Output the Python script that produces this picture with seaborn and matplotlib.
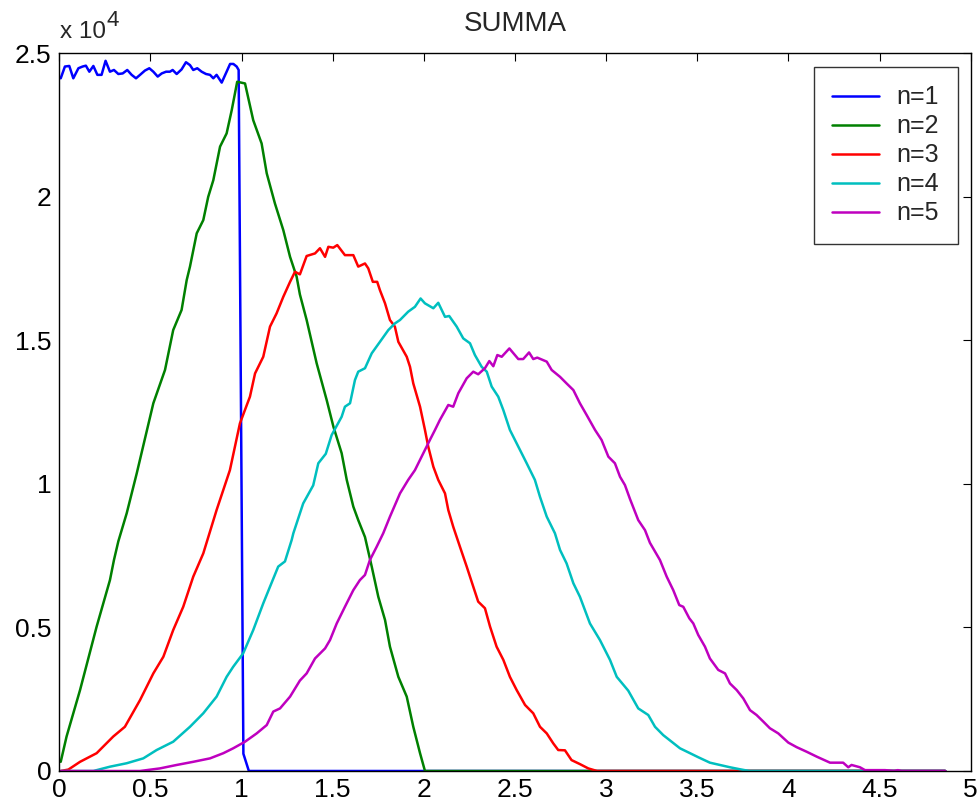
import numpy as np
import pandas as pd
import matplotlib
matplotlib.use("Agg")
import matplotlib.pyplot as plt
import seaborn as sns
from matplotlib.lines import Line2D

# ---- data (counts in units of 1e4) ----
labels = ["n=1", "n=2", "n=3", "n=4", "n=5"]
colors = ["#0000ff", "#008000", "#ff0000", "#00bfbf", "#bf00bf"]

x_n1 = [0.008, 0.031, 0.055, 0.077, 0.105, 0.128, 0.146, 0.165, 0.187, 0.209,
        0.232, 0.254, 0.278, 0.300, 0.324, 0.348, 0.373, 0.397, 0.421, 0.443,
        0.470, 0.494, 0.516, 0.540, 0.562, 0.586, 0.607, 0.622, 0.644, 0.671,
        0.695, 0.717, 0.735, 0.757, 0.781, 0.805, 0.827, 0.845, 0.863, 0.891,
        0.918, 0.937, 0.955, 0.973, 0.984, 1.010, 1.040, 4.860]
y_n1 = [2.413, 2.454, 2.456, 2.413, 2.448, 2.454, 2.457, 2.436, 2.456, 2.425,
        2.425, 2.474, 2.436, 2.442, 2.428, 2.430, 2.442, 2.425, 2.413, 2.425,
        2.440, 2.448, 2.436, 2.419, 2.430, 2.436, 2.436, 2.442, 2.428, 2.444,
        2.469, 2.459, 2.442, 2.448, 2.436, 2.428, 2.425, 2.413, 2.425, 2.398,
        2.436, 2.463, 2.463, 2.454, 2.442, 0.060, 0.000, 0.000]

x_n2 = [0.008, 0.040, 0.114, 0.205, 0.278, 0.300, 0.324, 0.370, 0.425, 0.516,
        0.580, 0.625, 0.671, 0.699, 0.717, 0.754, 0.790, 0.817, 0.845, 0.882,
        0.918, 0.946, 0.976, 1.019, 1.064, 1.110, 1.138, 1.183, 1.229, 1.266,
        1.302, 1.320, 1.357, 1.412, 1.467, 1.504, 1.549, 1.577, 1.613, 1.640,
        1.677, 1.714, 1.750, 1.787, 1.814, 1.860, 1.906, 1.942, 1.979, 2.006,
        4.860]
y_n2 = [0.032, 0.120, 0.282, 0.503, 0.665, 0.735, 0.800, 0.898, 1.037, 1.281,
        1.397, 1.536, 1.606, 1.710, 1.757, 1.873, 1.919, 2.000, 2.058, 2.175,
        2.221, 2.302, 2.401, 2.395, 2.267, 2.186, 2.082, 1.977, 1.884, 1.791,
        1.722, 1.660, 1.571, 1.420, 1.292, 1.199, 1.107, 1.014, 0.921, 0.874,
        0.815, 0.712, 0.607, 0.526, 0.433, 0.328, 0.259, 0.154, 0.062, 0.000,
        0.000]

x_n3 = [0.008, 0.050, 0.114, 0.205, 0.296, 0.360, 0.443, 0.516, 0.571, 0.625,
        0.680, 0.735, 0.790, 0.863, 0.936, 0.991, 1.046, 1.074, 1.119, 1.156,
        1.192, 1.229, 1.266, 1.293, 1.320, 1.357, 1.403, 1.430, 1.458, 1.476,
        1.503, 1.525, 1.567, 1.613, 1.640, 1.677, 1.695, 1.720, 1.744, 1.759,
        1.787, 1.814, 1.841, 1.860, 1.906, 1.924, 1.942, 1.979, 2.006, 2.024,
        2.052, 2.079, 2.116, 2.134, 2.161, 2.198, 2.235, 2.271, 2.298, 2.335,
        2.363, 2.399, 2.436, 2.472, 2.509, 2.555, 2.600, 2.637, 2.674, 2.710,
        2.737, 2.774, 2.810, 2.856, 2.902, 2.950, 4.860]
y_n3 = [0.000, 0.005, 0.032, 0.062, 0.120, 0.154, 0.247, 0.340, 0.398, 0.491,
        0.572, 0.677, 0.758, 0.909, 1.048, 1.211, 1.304, 1.385, 1.443, 1.548,
        1.594, 1.652, 1.704, 1.739, 1.730, 1.794, 1.803, 1.821, 1.791, 1.826,
        1.823, 1.832, 1.797, 1.797, 1.757, 1.768, 1.751, 1.704, 1.704, 1.675,
        1.629, 1.571, 1.548, 1.495, 1.443, 1.408, 1.350, 1.269, 1.188, 1.130,
        1.060, 1.014, 0.967, 0.909, 0.851, 0.781, 0.712, 0.642, 0.590, 0.567,
        0.503, 0.433, 0.387, 0.328, 0.282, 0.230, 0.201, 0.154, 0.131, 0.096,
        0.073, 0.072, 0.038, 0.024, 0.009, 0.000, 0.000]

x_n4 = [0.008, 0.187, 0.278, 0.370, 0.461, 0.534, 0.625, 0.717, 0.790, 0.863,
        0.918, 0.954, 1.009, 1.064, 1.119, 1.156, 1.201, 1.238, 1.275, 1.284,
        1.338, 1.393, 1.421, 1.462, 1.494, 1.549, 1.567, 1.595, 1.622, 1.640,
        1.677, 1.714, 1.759, 1.805, 1.841, 1.869, 1.914, 1.951, 1.982, 2.006,
        2.052, 2.079, 2.116, 2.139, 2.180, 2.216, 2.253, 2.280, 2.317, 2.345,
        2.372, 2.408, 2.436, 2.472, 2.518, 2.564, 2.609, 2.637, 2.674, 2.719,
        2.747, 2.783, 2.820, 2.856, 2.911, 2.966, 3.021, 3.058, 3.121, 3.176,
        3.231, 3.268, 3.313, 3.359, 3.405, 3.460, 3.505, 3.569, 3.624, 3.679,
        3.734, 3.785, 4.860]
y_n4 = [0.000, 0.000, 0.015, 0.027, 0.044, 0.073, 0.102, 0.154, 0.201, 0.259,
        0.328, 0.363, 0.410, 0.491, 0.584, 0.642, 0.712, 0.730, 0.805, 0.828,
        0.932, 0.995, 1.072, 1.105, 1.170, 1.234, 1.269, 1.281, 1.362, 1.391,
        1.403, 1.455, 1.495, 1.536, 1.559, 1.571, 1.600, 1.617, 1.646, 1.629,
        1.612, 1.631, 1.582, 1.585, 1.548, 1.507, 1.490, 1.449, 1.408, 1.391,
        1.339, 1.304, 1.257, 1.188, 1.130, 1.072, 1.014, 0.955, 0.886, 0.828,
        0.770, 0.723, 0.654, 0.607, 0.514, 0.456, 0.387, 0.328, 0.280, 0.218,
        0.195, 0.154, 0.125, 0.102, 0.079, 0.062, 0.048, 0.029, 0.021, 0.013,
        0.006, 0.000, 0.000]

x_n5 = [0.008, 0.443, 0.552, 0.644, 0.735, 0.827, 0.900, 0.954, 1.019, 1.083,
        1.138, 1.174, 1.211, 1.266, 1.320, 1.357, 1.403, 1.458, 1.485, 1.522,
        1.567, 1.613, 1.649, 1.677, 1.704, 1.741, 1.777, 1.814, 1.869, 1.914,
        1.951, 1.997, 2.033, 2.061, 2.088, 2.134, 2.161, 2.189, 2.235, 2.271,
        2.298, 2.335, 2.359, 2.381, 2.403, 2.427, 2.469, 2.518, 2.545, 2.577,
        2.600, 2.622, 2.674, 2.701, 2.747, 2.783, 2.820, 2.856, 2.893, 2.939,
        2.975, 3.012, 3.048, 3.076, 3.103, 3.131, 3.176, 3.213, 3.240, 3.295,
        3.332, 3.368, 3.401, 3.423, 3.456, 3.478, 3.505, 3.542, 3.569, 3.615,
        3.652, 3.679, 3.716, 3.752, 3.789, 3.825, 3.862, 3.898, 3.944, 3.999,
        4.045, 4.100, 4.155, 4.228, 4.300, 4.328, 4.346, 4.392, 4.420, 4.530,
        4.580, 4.600, 4.620, 4.860]
y_n5 = [0.000, 0.000, 0.009, 0.021, 0.032, 0.044, 0.062, 0.079, 0.102, 0.131,
        0.160, 0.207, 0.218, 0.259, 0.315, 0.340, 0.392, 0.427, 0.456, 0.514,
        0.572, 0.630, 0.665, 0.683, 0.735, 0.781, 0.828, 0.886, 0.967, 1.014,
        1.048, 1.107, 1.153, 1.188, 1.223, 1.275, 1.269, 1.316, 1.368, 1.391,
        1.382, 1.403, 1.428, 1.410, 1.449, 1.443, 1.472, 1.435, 1.435, 1.458,
        1.435, 1.440, 1.426, 1.397, 1.373, 1.350, 1.327, 1.281, 1.240, 1.188,
        1.153, 1.095, 1.072, 1.025, 0.996, 0.947, 0.874, 0.839, 0.795, 0.735,
        0.677, 0.630, 0.578, 0.572, 0.532, 0.514, 0.474, 0.433, 0.392, 0.352,
        0.340, 0.305, 0.282, 0.253, 0.212, 0.195, 0.172, 0.149, 0.131, 0.099,
        0.083, 0.067, 0.050, 0.029, 0.029, 0.013, 0.021, 0.013, 0.003, 0.003,
        0.000, 0.003, 0.000, 0.000]

x_ticks = [0, 0.5, 1, 1.5, 2, 2.5, 3, 3.5, 4, 4.5, 5]
x_tick_labels = ["0", "0.5", "1", "1.5", "2", "2.5", "3", "3.5", "4", "4.5", "5"]
y_ticks = [0, 0.5, 1, 1.5, 2, 2.5]
y_tick_labels = ["0", "0.5", "1", "1.5", "2", "2.5"]

# ---- build long table ----
frames = []
for lab, xs, ys in zip(labels, [x_n1, x_n2, x_n3, x_n4, x_n5],
                       [y_n1, y_n2, y_n3, y_n4, y_n5]):
    frames.append(pd.DataFrame({"x": xs, "y": ys, "series": lab}))
df = pd.concat(frames, ignore_index=True)

sns.set_style("white")
FONT = ["Liberation Sans", "DejaVu Sans"]
plt.rcParams["font.family"] = FONT

fig = plt.figure(figsize=(9.78, 8.08), dpi=100)
ax = fig.add_axes([0.0606, 0.0458, 0.932, 0.8882])

sns.lineplot(data=df, x="x", y="y", hue="series", hue_order=labels,
             palette=colors, estimator=None, sort=False,
             linewidth=1.8, ax=ax, legend=False)

ax.set_xlim(0, 5)
ax.set_ylim(0, 2.5)
ax.set_xticks(x_ticks)
ax.set_xticklabels(x_tick_labels)
ax.set_yticks(y_ticks)
ax.set_yticklabels(y_tick_labels)
ax.set_xlabel("")
ax.set_ylabel("")
ax.tick_params(direction="in", top=True, right=True, length=6, width=0.8,
               labelsize=19, colors="black")
ax.tick_params(axis="x", pad=5)
ax.tick_params(axis="y", pad=5.5)
for s in ax.spines.values():
    s.set_visible(True)
    s.set_color("black")
    s.set_linewidth(1.0)

ax.set_title("SUMMA", fontsize=20, pad=16)
ax.text(0.0008, 1.0209, "x 10", transform=ax.transAxes, ha="left",
        va="baseline", fontsize=17.5)
ax.text(0.0515, 1.038, "4", transform=ax.transAxes, ha="left",
        va="baseline", fontsize=16)

handles = [Line2D([0], [0], color=c, lw=1.8) for c in colors]
leg = ax.legend(handles, labels, loc="upper right", fontsize=18,
                frameon=True, fancybox=False, edgecolor="black",
                borderaxespad=0.53, handlelength=1.85, handletextpad=0.7,
                labelspacing=0.2, borderpad=0.75)
leg.get_frame().set_linewidth(1.0)

fig.savefig("out.png", dpi=100, facecolor="white")
